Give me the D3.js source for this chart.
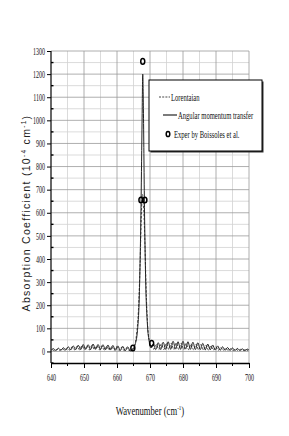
<!DOCTYPE html>
<html>
<head>
<meta charset="utf-8">
<script src="https://cdn.jsdelivr.net/npm/d3@7"></script>
<style>
  html, body { margin: 0; padding: 0; background: #fff; }
  svg { display: block; }
</style>
</head>
<body>
<div id="chart"></div>
<script>
// ---------- data ----------
const xTicks = [640, 650, 660, 670, 680, 690, 700];
const xMinor = [645, 655, 665, 675, 685, 695];
const yTicks = [0, 100, 200, 300, 400, 500, 600, 700, 800, 900, 1000, 1100, 1200, 1300];
const yMinor = [-50, 50, 150, 250, 350, 450, 550, 650, 750, 850, 950, 1050, 1150, 1250];

// Angular momentum transfer (solid)
const amtWn = [640, 640.75, 641.5, 642.25, 643, 643.75, 644.5, 645.25, 646, 646.75, 647.5, 648.25, 649, 649.75,
  650.5, 651.25, 652, 652.75, 653.5, 654.25, 655, 655.75, 656.5, 657.25, 658, 658.75, 659.5, 660.25, 661,
  661.75, 662.5, 663.25, 664, 664.8, 665.5, 666.2, 666.8, 667.3, 667.6, 667.8, 668.0, 668.3, 668.7, 669.2,
  669.8, 670.3, 671, 671.75, 672.5, 673.25, 674, 674.75, 675.5, 676.25, 677, 677.75, 678.5, 679.25, 680,
  680.75, 681.5, 682.25, 683, 683.75, 684.5, 685.25, 686, 686.75, 687.5, 688.25, 689, 689.75, 690.5, 691.25,
  692, 692.75, 693.5, 694.25, 695, 695.75, 696.5, 697.25, 698, 698.75, 699.5, 700];
const amtVal = [5, 12, 4, 14, 5, 16, 6, 20, 7, 24, 8, 27, 8, 30,
  9, 29, 8, 32, 9, 30, 8, 29, 7, 28, 6, 26, 5, 24, 4,
  22, 3, 20, 2, 8, 30, 90, 260, 650, 1000, 1200, 1050, 650, 300, 120,
  40, 15, 34, 8, 38, 8, 40, 9, 42, 9, 44, 10, 42, 9, 44,
  10, 42, 9, 40, 8, 38, 8, 35, 7, 32, 7, 28, 6, 24, 5,
  20, 5, 17, 4, 15, 4, 13, 4, 11, 4, 10, 5];

// Lorentzian (dashed)
const lorWn = [640.4, 641.15, 641.9, 642.65, 643.4, 644.15, 644.9, 645.65, 646.4, 647.15, 647.9, 648.65, 649.4,
  650.15, 650.9, 651.65, 652.4, 653.15, 653.9, 654.65, 655.4, 656.15, 656.9, 657.65, 658.4, 659.15, 659.9,
  660.65, 661.4, 662.15, 662.9, 663.65, 664.4, 665.2, 665.9, 666.5, 667.0, 667.4, 667.7, 668.0, 668.4,
  668.8, 669.3, 669.8, 670.4, 671.2, 671.95, 672.7, 673.45, 674.2, 674.95, 675.7, 676.45, 677.2, 677.95,
  678.7, 679.45, 680.2, 680.95, 681.7, 682.45, 683.2, 683.95, 684.7, 685.45, 686.2, 686.95, 687.7, 688.45,
  689.2, 689.95, 690.7, 691.45, 692.2, 692.95, 693.7, 694.45, 695.2, 695.95, 696.7, 697.45, 698.2, 698.95, 699.7];
const lorVal = [8, 3, 10, 4, 12, 5, 16, 6, 20, 7, 22, 7, 25,
  8, 24, 7, 26, 8, 25, 7, 24, 6, 22, 6, 21, 5, 20,
  4, 18, 4, 16, 4, 8, 22, 70, 180, 380, 600, 680, 640, 500,
  280, 110, 45, 20, 10, 30, 8, 33, 8, 35, 9, 36, 8, 37,
  9, 36, 8, 35, 8, 33, 7, 32, 7, 30, 6, 27, 6, 24,
  6, 20, 5, 17, 5, 14, 4, 12, 4, 11, 4, 9, 4, 8, 4];

// Experiment by Boissoles et al. (open circles)
const expWn = [664.8, 667.25, 667.8, 668.45, 670.5];
const expVal = [15, 655, 1255, 655, 35];

// ---------- layout ----------
const width = 289, height = 436;
const plot = { left: 51, right: 249, top: 51, bottom: 363 };

const svg = d3.select('#chart').append('svg')
  .attr('width', width)
  .attr('height', height);

const x = d3.scaleLinear().domain([640, 700]).range([plot.left, plot.right]);
const y = d3.scaleLinear().domain([-50, 1300]).range([plot.bottom, plot.top]);

// gridlines
const grid = svg.append('g');
grid.selectAll('.gy').data(yMinor.filter(d => d > 0)).enter().append('line')
  .attr('x1', plot.left).attr('x2', plot.right)
  .attr('y1', d => y(d)).attr('y2', d => y(d))
  .attr('stroke', '#d2d2d2').attr('stroke-width', 0.8);
grid.selectAll('.gx').data(xMinor).enter().append('line')
  .attr('x1', d => x(d)).attr('x2', d => x(d))
  .attr('y1', plot.top).attr('y2', plot.bottom)
  .attr('stroke', '#d2d2d2').attr('stroke-width', 0.8);
grid.selectAll('.Gy').data(yTicks).enter().append('line')
  .attr('x1', plot.left).attr('x2', plot.right)
  .attr('y1', d => y(d)).attr('y2', d => y(d))
  .attr('stroke', '#9a9a9a').attr('stroke-width', 0.8);
grid.selectAll('.Gx').data(xTicks.slice(1)).enter().append('line')
  .attr('x1', d => x(d)).attr('x2', d => x(d))
  .attr('y1', plot.top).attr('y2', plot.bottom)
  .attr('stroke', '#9a9a9a').attr('stroke-width', 0.8);

// axes
const sx = 0.6; // condensed serif labels
const serif = 'Liberation Serif, Times New Roman, serif';
const yAxis = svg.append('g')
  .attr('transform', `translate(${plot.left},0)`)
  .call(d3.axisLeft(y).tickValues(yTicks).tickFormat(d3.format('d'))
    .tickSize(4).tickSizeOuter(0).tickPadding(2));
yAxis.select('.domain').attr('stroke', '#000').attr('stroke-width', 1.2)
  .attr('d', `M0,${plot.bottom}V${y(1300)}`);
yAxis.selectAll('text')
  .attr('font-family', serif)
  .attr('font-size', 10).attr('fill', '#111')
  .attr('x', -6 / sx)
  .attr('transform', `scale(${sx},1)`);
yAxis.selectAll('.minor').data(yMinor).enter().append('line')
  .attr('class', 'minor')
  .attr('x1', 0).attr('x2', 2.5)
  .attr('y1', d => y(d)).attr('y2', d => y(d))
  .attr('stroke', '#000').attr('stroke-width', 1.4);

const xAxis = svg.append('g')
  .attr('transform', `translate(0,${plot.bottom})`)
  .call(d3.axisBottom(x).tickValues(xTicks).tickSize(5).tickSizeOuter(0).tickPadding(6));
xAxis.select('.domain').attr('stroke', '#000').attr('stroke-width', 1.6);
xAxis.selectAll('text')
  .attr('font-family', serif)
  .attr('font-size', 10).attr('fill', '#111')
  .attr('transform', `scale(${sx},1)`);
xAxis.selectAll('.minor').data(xMinor).enter().append('line')
  .attr('class', 'minor')
  .attr('x1', d => x(d)).attr('x2', d => x(d))
  .attr('y1', 0).attr('y2', 3)
  .attr('stroke', '#000').attr('stroke-width', 1);

// series
const lorData = lorWn.map((w, i) => [w, lorVal[i]]);
const amtData = amtWn.map((w, i) => [w, amtVal[i]]);
const line = d3.line().x(d => x(d[0])).y(d => y(d[1])).curve(d3.curveMonotoneX);

svg.append('path').datum(lorData)
  .attr('d', line).attr('fill', 'none')
  .attr('stroke', '#333').attr('stroke-width', 0.9)
  .attr('stroke-dasharray', '2.5,1.5');
svg.append('path').datum(amtData)
  .attr('d', line).attr('fill', 'none')
  .attr('stroke', '#222').attr('stroke-width', 1);

svg.selectAll('.exp').data(expWn.map((w, i) => [w, expVal[i]])).enter().append('ellipse')
  .attr('cx', d => x(d[0])).attr('cy', d => y(d[1]))
  .attr('rx', 2).attr('ry', 2.8)
  .attr('fill', 'none').attr('stroke', '#000').attr('stroke-width', 1.5);

// legend
const lg = svg.append('g');
lg.append('rect').attr('x', 150.5).attr('y', 81.5).attr('width', 113).attr('height', 71).attr('fill', '#333');
lg.append('rect').attr('x', 149).attr('y', 80).attr('width', 113).attr('height', 71)
  .attr('fill', '#fff').attr('stroke', '#000').attr('stroke-width', 1);
lg.append('line').attr('x1', 159).attr('x2', 170).attr('y1', 97).attr('y2', 97)
  .attr('stroke', '#333').attr('stroke-width', 0.9).attr('stroke-dasharray', '2,1.2');
lg.append('line').attr('x1', 163).attr('x2', 177).attr('y1', 115).attr('y2', 115)
  .attr('stroke', '#333').attr('stroke-width', 1.3);
lg.append('ellipse').attr('cx', 168).attr('cy', 134).attr('rx', 1.8).attr('ry', 2.6)
  .attr('fill', 'none').attr('stroke', '#000').attr('stroke-width', 1.5);
[['Lorentaian', 171, 97], ['Angular momentum transfer', 178, 115], ['Exper by Boissoles et al.', 174, 134]]
  .forEach(([t, tx, ty]) => {
    lg.append('text')
      .attr('transform', `translate(${tx},${ty}) scale(0.6,1)`)
      .attr('dy', '0.33em')
      .attr('font-family', serif).attr('font-size', 11).attr('fill', '#111')
      .text(t);
  });

// axis titles
const xt = svg.append('text')
  .attr('transform', `translate(150,415) scale(0.72,1)`)
  .attr('text-anchor', 'middle')
  .attr('font-family', serif).attr('font-size', 12).attr('fill', '#111');
xt.append('tspan').text('Wavenumber (cm');
xt.append('tspan').attr('dy', -5).attr('font-size', 7).text('-1');
xt.append('tspan').attr('dy', 5).text(')');

const yt = svg.append('text')
  .attr('transform', 'translate(30,213) rotate(-90)')
  .attr('text-anchor', 'middle')
  .attr('font-family', 'Liberation Sans, Arial, sans-serif')
  .attr('font-size', 10.5).attr('letter-spacing', 1.3).attr('fill', '#222');
yt.append('tspan').text('Absorption Coefficient (10');
yt.append('tspan').attr('dy', -4).attr('font-size', 6.5).text('-4');
yt.append('tspan').attr('dy', 4).text(' cm');
yt.append('tspan').attr('dy', -4).attr('font-size', 6.5).text('-1');
yt.append('tspan').attr('dy', 4).text(')');
</script>
</body>
</html>
